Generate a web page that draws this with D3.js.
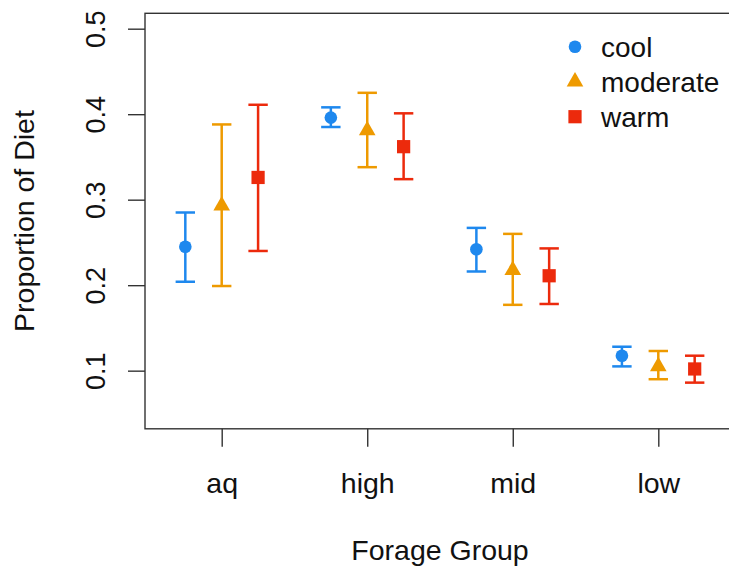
<!DOCTYPE html>
<html>
<head>
<meta charset="utf-8">
<script src="https://d3js.org/d3.v7.min.js"></script>
<style>
  body { margin: 0; background: #fff; }
  text { font-family: "Liberation Sans", Arial, sans-serif; fill: #111; }
  .axis path { display: none; }
  .axis line { stroke: #333; stroke-width: 1.4; }
</style>
</head>
<body>
<svg id="chart" width="729" height="572"></svg>
<script>
// forage groups (x ticks at 1..4)
var groups = ["aq", "high", "mid", "low"];
var yTicks = [0.1, 0.2, 0.3, 0.4, 0.5];

// series: numeric x position, mean, lower and upper bound
var coolX = [0.75, 1.75, 2.75, 3.75];
var coolMean = [0.245, 0.396, 0.242, 0.1175];
var coolLo = [0.204, 0.385, 0.216, 0.105];
var coolHi = [0.285, 0.408, 0.267, 0.128];

var modX = [1, 2, 3, 4];
var modMean = [0.293, 0.381, 0.2175, 0.105];
var modLo = [0.199, 0.338, 0.177, 0.090];
var modHi = [0.388, 0.425, 0.260, 0.123];

var warmX = [1.25, 2.25, 3.25, 4.25];
var warmMean = [0.326, 0.362, 0.211, 0.102];
var warmLo = [0.240, 0.324, 0.178, 0.086];
var warmHi = [0.411, 0.401, 0.243, 0.1175];

var series = [
  {name: "cool", color: "#1E88EE", shape: d3.symbolCircle, size: 125, x: coolX, m: coolMean, lo: coolLo, hi: coolHi},
  {name: "moderate", color: "#EE9A00", shape: d3.symbolTriangle, size: 120, x: modX, m: modMean, lo: modLo, hi: modHi},
  {name: "warm", color: "#EC2A0C", shape: d3.symbolSquare, size: 175, x: warmX, m: warmMean, lo: warmLo, hi: warmHi}
];

var svg = d3.select("#chart");

// scales (R style: ylim 0.05-0.5 plus 4%)
var x = d3.scaleLinear().domain([1, 4]).range([221.7, 658.3]);
var yPad = 0.45 * 0.04;
var y = d3.scaleLinear().domain([0.05 - yPad, 0.5 + yPad]).range([428.8, 13.3]);
var xLeft = 0.473;

// plot box (runs off the right edge like the original)
svg.append("rect")
  .attr("x", x(xLeft)).attr("y", y.range()[1])
  .attr("width", 700).attr("height", y.range()[0] - y.range()[1])
  .attr("fill", "none").attr("stroke", "#333").attr("stroke-width", 1.4);

// y axis
var gy = svg.append("g").attr("class", "axis")
  .attr("transform", "translate(" + x(xLeft) + ",0)")
  .call(d3.axisLeft(y).tickValues(yTicks).tickSize(17).tickFormat(d3.format(".1f")));
gy.selectAll("text").remove();
gy.selectAll(".tick").append("text")
  .attr("transform", "translate(-40,0) rotate(-90)")
  .attr("text-anchor", "middle")
  .style("font-size", "27px")
  .text(function(d) { return d3.format(".1f")(d); });

// x axis
var gx = svg.append("g").attr("class", "axis")
  .attr("transform", "translate(0," + y.range()[0] + ")")
  .call(d3.axisBottom(x).tickValues([1, 2, 3, 4]).tickSize(18)
    .tickFormat(function(d) { return groups[d - 1]; }));
gx.selectAll("text")
  .attr("y", 64).attr("dy", null)
  .style("font-size", "28.5px").attr("fill", "#111");

// axis titles
svg.append("text")
  .attr("transform", "translate(34," + 221 + ") rotate(-90)")
  .attr("text-anchor", "middle")
  .style("font-size", "28.5px")
  .text("Proportion of Diet");
svg.append("text")
  .attr("x", x(2.5)).attr("y", 560)
  .attr("text-anchor", "middle")
  .style("font-size", "28.5px")
  .text("Forage Group");

// error bars and points
series.forEach(function(s) {
  var g = svg.append("g");
  var idx = d3.range(s.m.length);
  g.selectAll("line.bar").data(idx).enter().append("line")
    .attr("x1", function(i) { return x(s.x[i]); })
    .attr("x2", function(i) { return x(s.x[i]); })
    .attr("y1", function(i) { return y(s.lo[i]); })
    .attr("y2", function(i) { return y(s.hi[i]); })
    .attr("stroke", s.color).attr("stroke-width", 2.5);
  [s.lo, s.hi].forEach(function(arr) {
    g.selectAll(null).data(idx).enter().append("line")
      .attr("x1", function(i) { return x(s.x[i]) - 9.7; })
      .attr("x2", function(i) { return x(s.x[i]) + 9.7; })
      .attr("y1", function(i) { return y(arr[i]); })
      .attr("y2", function(i) { return y(arr[i]); })
      .attr("stroke", s.color).attr("stroke-width", 2.5);
  });
  g.selectAll("path").data(idx).enter().append("path")
    .attr("transform", function(i) { return "translate(" + x(s.x[i]) + "," + y(s.m[i]) + ")"; })
    .attr("d", d3.symbol().type(s.shape).size(s.size))
    .attr("fill", s.color);
});

// legend
var legend = svg.append("g").attr("transform", "translate(575,46.7)");
series.forEach(function(s, i) {
  var row = legend.append("g").attr("transform", "translate(0," + (i * 35) + ")");
  row.append("path")
    .attr("d", d3.symbol().type(s.shape).size(s.size))
    .attr("fill", s.color);
  row.append("text")
    .attr("x", 26).attr("y", 10.6)
    .style("font-size", "28px")
    .text(s.name);
});
</script>
</body>
</html>
